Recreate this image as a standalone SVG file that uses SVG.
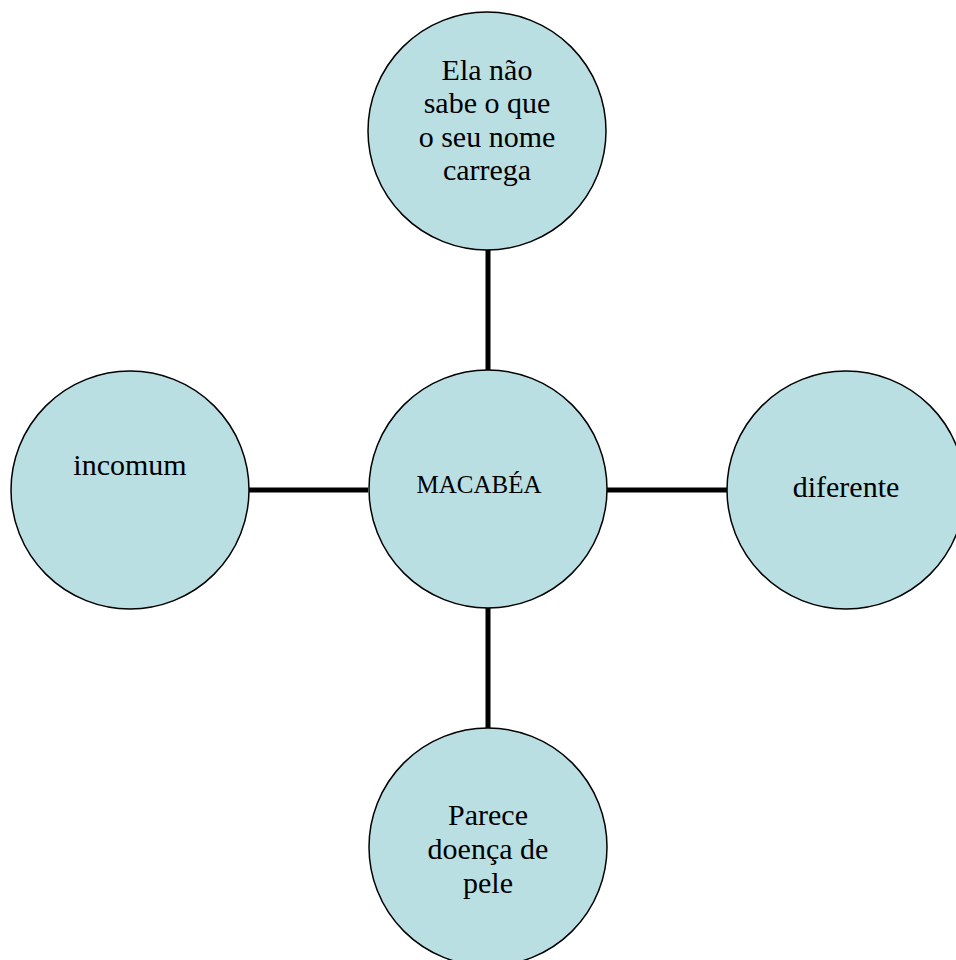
<svg xmlns="http://www.w3.org/2000/svg" width="956" height="960" viewBox="0 0 956 960">
<style>
.n{fill:#badfe3;stroke:#000;stroke-width:1.5}
.t{font-family:"Liberation Serif","Times New Roman",serif;font-size:30px;fill:#000;text-anchor:middle}
.c{stroke:#000;stroke-width:5;fill:none}
</style>
<rect width="956" height="960" fill="#fff"/>
<g id="connectors">
<line class="c" x1="488" y1="249" x2="488" y2="370"/>
<line class="c" x1="488" y1="607" x2="488" y2="728"/>
<line class="c" x1="249" y1="490" x2="368" y2="490"/>
<line class="c" x1="607" y1="490" x2="727" y2="490"/>
</g>
<g id="top">
<circle class="n" cx="487" cy="131" r="119"/>
<text class="t" x="487" y="80">Ela não</text>
<text class="t" x="487" y="113">sabe o que</text>
<text class="t" x="487" y="147">o seu nome</text>
<text class="t" x="487" y="180">carrega</text>
</g>
<g id="center">
<circle class="n" cx="488" cy="489" r="119"/>
<text class="t" x="479" y="493" style="font-size:25px">MACABÉA</text>
</g>
<g id="left">
<circle class="n" cx="130" cy="490" r="119"/>
<text class="t" x="130" y="475">incomum</text>
</g>
<g id="right">
<circle class="n" cx="846" cy="490" r="119"/>
<text class="t" x="846" y="497">diferente</text>
</g>
<g id="bottom">
<circle class="n" cx="488" cy="847" r="119"/>
<text class="t" x="488" y="825">Parece</text>
<text class="t" x="488" y="859">doença de</text>
<text class="t" x="488" y="893">pele</text>
</g>
</svg>
